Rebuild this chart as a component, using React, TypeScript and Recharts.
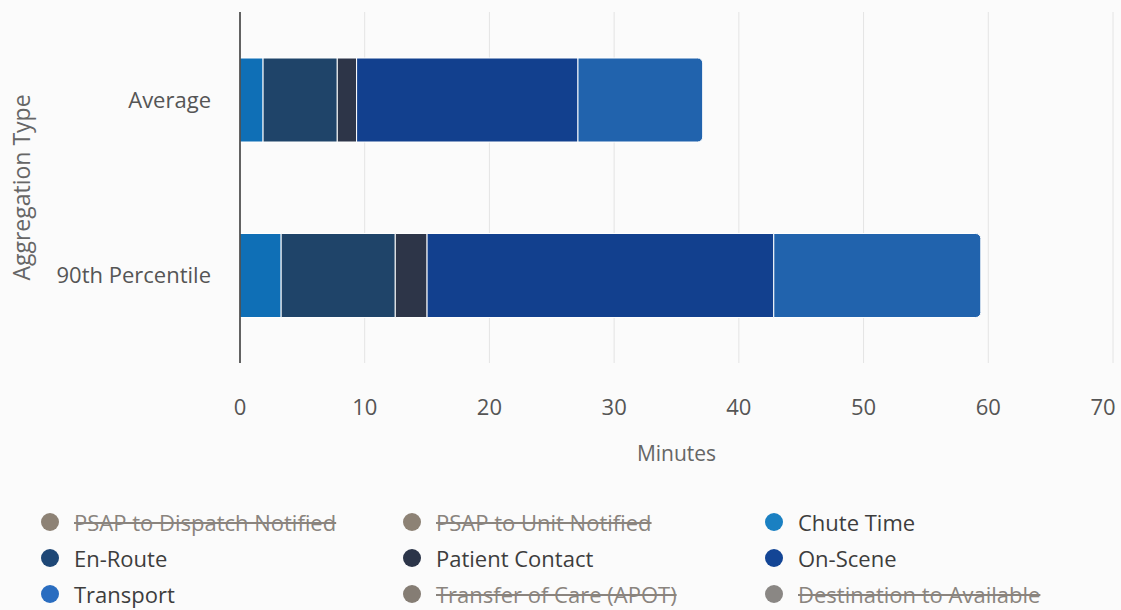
import { BarChart, Bar, XAxis, YAxis, CartesianGrid, Legend } from 'recharts';

// Response interval breakdown, in minutes
const categories = ['Average', '90th Percentile'];
const chuteTime = [1.85, 3.3];
const enRoute = [5.95, 9.15];
const patientContact = [1.55, 2.55];
const onScene = [17.75, 27.8];
const transport = [10.0, 16.6];
const xTicks = [0, 10, 20, 30, 40, 50, 60, 70];

const legendItems = [
  { name: 'PSAP to Dispatch Notified', color: '#8d8275', hidden: true },
  { name: 'PSAP to Unit Notified', color: '#8d8275', hidden: true },
  { name: 'Chute Time', color: '#1a80c2', hidden: false },
  { name: 'En-Route', color: '#1e4776', hidden: false },
  { name: 'Patient Contact', color: '#2c3549', hidden: false },
  { name: 'On-Scene', color: '#134595', hidden: false },
  { name: 'Transport', color: '#2a6dc0', hidden: false },
  { name: 'Transfer of Care (APOT)', color: '#857d74', hidden: true },
  { name: 'Destination to Available', color: '#8a8784', hidden: true },
];

const data = categories.map((category, i) => ({
  category,
  chute: chuteTime[i],
  enRoute: enRoute[i],
  patient: patientContact[i],
  onScene: onScene[i],
  transport: transport[i],
}));

const FONT = '"Open Sans", "Segoe UI", sans-serif';
const CHART_W = 1121;

// keep the last tick label inside the chart edge
const MinuteTick = (props: any) => {
  const { x, y, payload } = props;
  const half = 14;
  const cx = Math.min(x, CHART_W - 4 - half);
  return (
    <text x={cx} y={y} dy="0.71em" textAnchor="middle" fill="#555" fontSize={22} fontFamily={FONT}>
      {payload.value}
    </text>
  );
};

const renderLegend = () => (
  <div
    style={{
      display: 'grid',
      gridTemplateColumns: '362px 362px 362px',
      gridAutoRows: '36px',
      paddingLeft: 41,
      fontFamily: FONT,
      fontSize: 22,
    }}
  >
    {legendItems.map((item) => (
      <div key={item.name} style={{ display: 'flex', alignItems: 'center' }}>
        <span
          style={{
            width: 18,
            height: 18,
            borderRadius: '50%',
            background: item.color,
            display: 'inline-block',
            marginRight: 15,
            flexShrink: 0,
          }}
        />
        <span
          style={{
            color: item.hidden ? '#8a847e' : '#3d3d3d',
            textDecoration: item.hidden ? 'line-through' : 'none',
            whiteSpace: 'nowrap',
          }}
        >
          {item.name}
        </span>
      </div>
    ))}
  </div>
);

export default function App() {
  return (
    <div style={{ position: 'absolute', left: 0, top: 0, width: CHART_W, height: 610, background: '#fbfbfb' }}>
      <BarChart
        width={CHART_W}
        height={610}
        data={data}
        layout="vertical"
        margin={{ top: 12, right: 8, left: 0, bottom: 39 }}
        barSize={84}
      >
        <CartesianGrid horizontal={false} stroke="#e4e4e4" />
        <XAxis
          type="number"
          domain={[0, 70]}
          ticks={xTicks}
          axisLine={false}
          tickLine={false}
          tickSize={0}
          tickMargin={36}
          height={100}
          tick={<MinuteTick />}
          label={{ value: 'Minutes', position: 'insideBottom', offset: 2, fill: '#666', fontSize: 21, fontFamily: FONT }}
        />
        <YAxis
          type="category"
          dataKey="category"
          width={240}
          axisLine={{ stroke: '#333', strokeWidth: 1.5 }}
          tickLine={false}
          tickSize={0}
          tickMargin={29}
          tick={{ fill: '#555', fontSize: 22, fontFamily: FONT }}
          label={{
            value: 'Aggregation Type',
            angle: -90,
            position: 'insideLeft',
            offset: 22,
            fill: '#666',
            fontSize: 23,
            fontFamily: FONT,
            style: { textAnchor: 'middle' },
          }}
        />
        <Legend
          content={renderLegend}
          wrapperStyle={{ left: 0, top: 504, bottom: 'auto', width: CHART_W }}
        />
        <Bar dataKey="chute" stackId="t" fill="#0f6fb6" stroke="#fff" strokeWidth={1} isAnimationActive={false} />
        <Bar dataKey="enRoute" stackId="t" fill="#1f4469" stroke="#fff" strokeWidth={1} isAnimationActive={false} />
        <Bar dataKey="patient" stackId="t" fill="#2d3548" stroke="#fff" strokeWidth={1} isAnimationActive={false} />
        <Bar dataKey="onScene" stackId="t" fill="#12408e" stroke="#fff" strokeWidth={1} isAnimationActive={false} />
        <Bar
          dataKey="transport"
          stackId="t"
          fill="#2163ad"
          stroke="#fff"
          strokeWidth={1}
          radius={[0, 5, 5, 0]}
          isAnimationActive={false}
        />
      </BarChart>
    </div>
  );
}
